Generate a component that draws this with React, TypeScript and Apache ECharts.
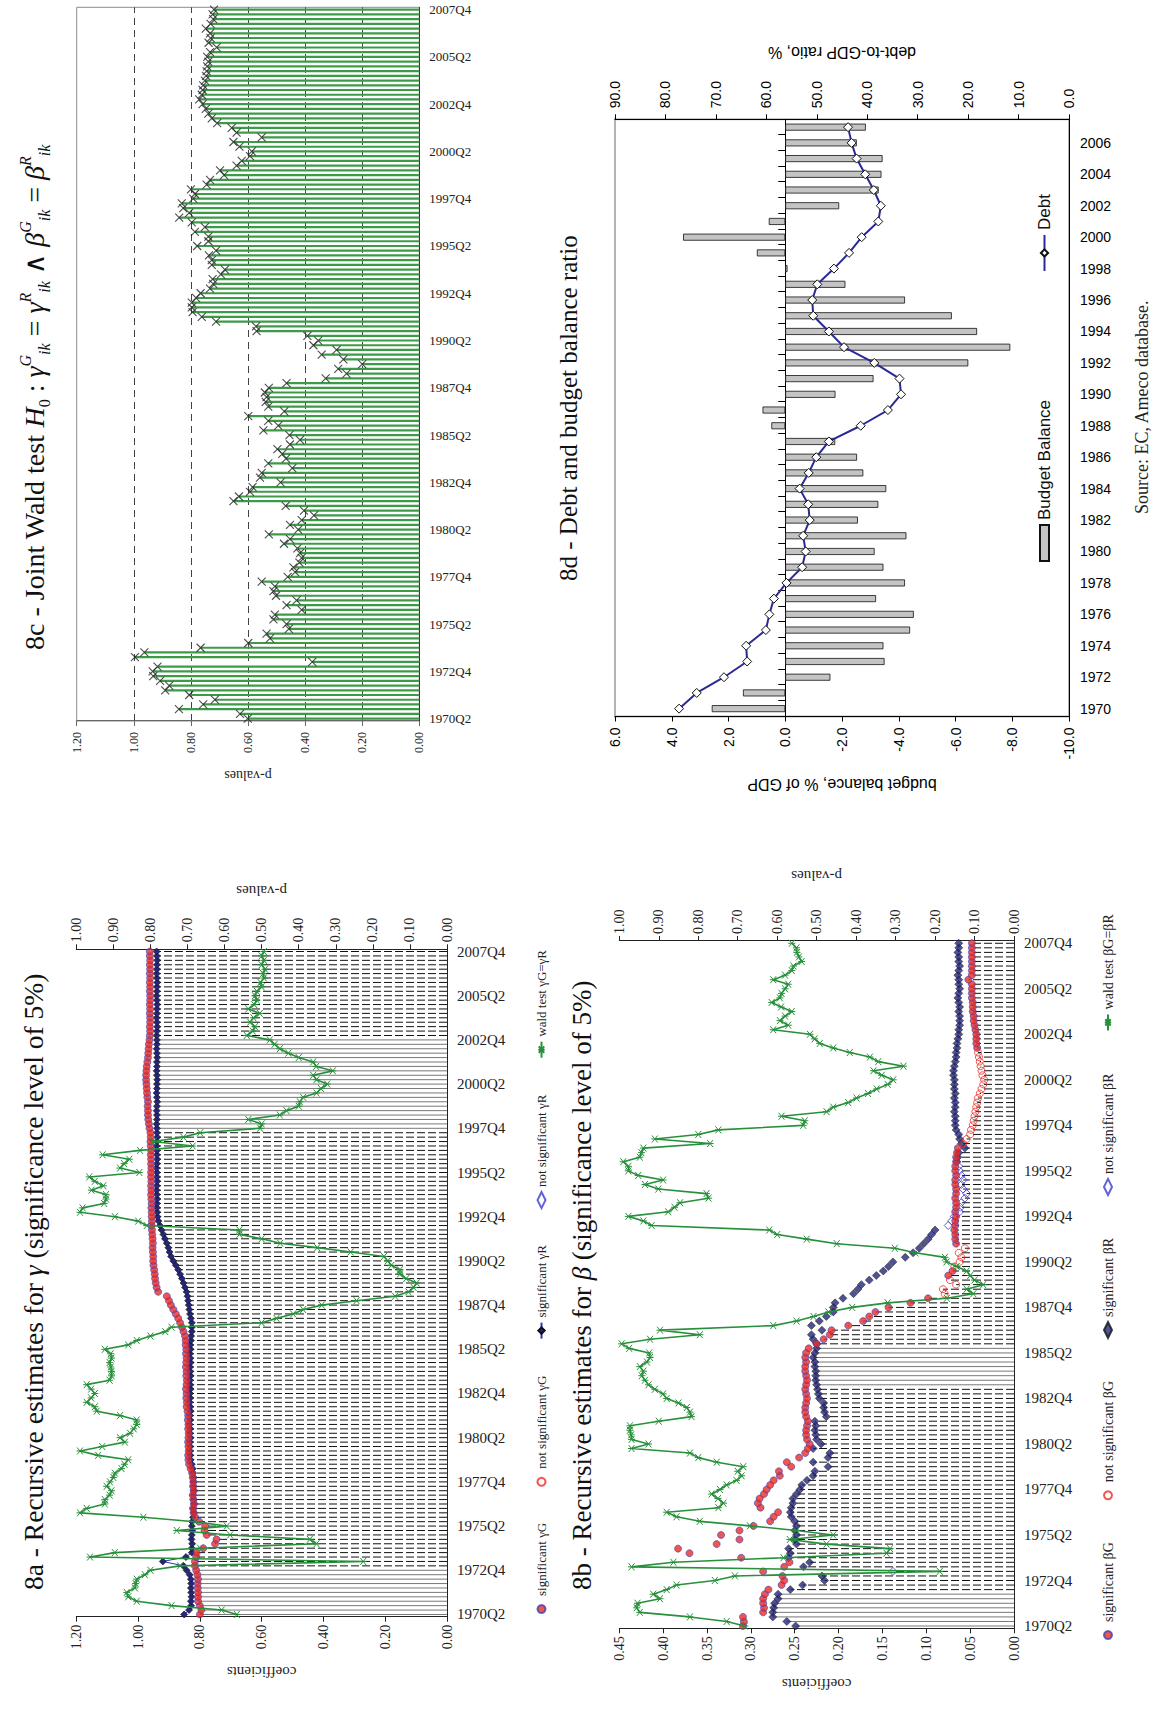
import React, { useEffect, useRef } from "react";
import * as echarts from "echarts";

const SERIF = "'Liberation Serif', 'DejaVu Serif', 'Times New Roman', serif";
const SANS = "'Liberation Sans', Arial, 'DejaVu Sans', sans-serif";

// ---------- categories ----------
const QUARTERS: string[] = [];
for (let y = 1970; y <= 2007; y++) {
  for (let q = 1; q <= 4; q++) {
    if (y === 1970 && q === 1) continue;
    QUARTERS.push(`${y}Q${q}`);
  }
}
const YEARS = ["1970","1971","1972","1973","1974","1975","1976","1977","1978","1979","1980","1981","1982","1983","1984","1985","1986","1987","1988","1989","1990","1991","1992","1993","1994","1995","1996","1997","1998","1999","2000","2001","2002","2003","2004","2005","2006","2007"];

// ---------- 8c : joint Wald test p-values ----------
const WALD_JOINT = [
  0.601,0.628,0.842,0.757,0.716,0.806,0.890,0.876,0.908,0.932,
  0.934,0.917,0.375,0.996,0.963,0.766,0.599,0.523,0.535,0.457,
  0.465,0.511,0.506,0.412,0.465,0.430,0.502,0.511,0.506,0.552,
  0.461,0.435,0.441,0.420,0.412,0.418,0.427,0.474,0.453,0.527,
  0.424,0.453,0.412,0.369,0.404,0.468,0.651,0.632,0.593,0.584,
  0.486,0.558,0.552,0.445,0.529,0.467,0.480,0.497,0.453,0.418,
  0.455,0.546,0.494,0.529,0.599,0.473,0.529,0.538,0.535,0.541,
  0.527,0.465,0.328,0.255,0.284,0.200,0.266,0.342,0.290,0.371,
  0.354,0.392,0.570,0.572,0.712,0.762,0.794,0.797,0.797,0.782,
  0.766,0.733,0.722,0.724,0.695,0.681,0.727,0.727,0.737,0.712,
  0.778,0.739,0.739,0.786,0.751,0.797,0.841,0.806,0.827,0.832,
  0.792,0.786,0.800,0.745,0.733,0.684,0.698,0.640,0.622,0.593,
  0.587,0.630,0.651,0.552,0.640,0.657,0.708,0.727,0.739,0.748,
  0.759,0.771,0.762,0.759,0.757,0.751,0.747,0.745,0.743,0.739,
  0.743,0.733,0.710,0.738,0.731,0.733,0.748,0.731,0.722,0.724,
  0.719
];

// ---------- 8a : gamma ----------
const GAMMA_G = [
  0.800,0.795,0.800,0.806,0.806,0.806,0.807,0.807,0.806,0.808,
  0.812,0.816,0.816,0.812,0.810,0.789,0.751,0.746,0.778,0.785,
  0.783,0.802,0.815,0.820,0.822,0.819,0.821,0.823,0.820,0.822,
  0.821,0.823,0.825,0.830,0.835,0.837,0.838,0.836,0.837,0.838,
  0.837,0.836,0.838,0.837,0.839,0.838,0.840,0.843,0.842,0.844,
  0.843,0.845,0.843,0.842,0.844,0.843,0.845,0.844,0.843,0.845,
  0.844,0.846,0.846,0.848,0.853,0.858,0.864,0.870,0.878,0.886,
  0.894,0.900,0.907,0.935,0.940,0.943,0.945,0.946,0.948,0.950,
  0.951,0.951,0.952,0.953,0.952,0.953,0.954,0.955,0.956,0.955,
  0.956,0.956,0.957,0.956,0.957,0.958,0.957,0.958,0.957,0.958,
  0.958,0.957,0.958,0.958,0.959,0.958,0.959,0.960,0.959,0.960,
  0.963,0.965,0.967,0.968,0.968,0.969,0.968,0.970,0.971,0.972,
  0.973,0.974,0.974,0.973,0.972,0.970,0.968,0.967,0.966,0.965,
  0.963,0.962,0.961,0.962,0.961,0.961,0.962,0.961,0.962,0.961,
  0.961,0.962,0.961,0.962,0.961,0.962,0.961,0.962,0.961,0.962,
  0.962
];
const GAMMA_R = [
  0.851,0.835,0.828,0.829,0.827,0.828,0.829,0.828,0.829,0.833,
  0.843,0.853,0.920,0.845,0.826,0.826,0.825,0.827,0.826,0.825,
  0.826,0.825,0.822,0.820,0.821,0.819,0.820,0.821,0.819,0.820,
  0.821,0.820,0.822,0.823,0.826,0.830,0.831,0.832,0.831,0.832,
  0.830,0.832,0.831,0.833,0.831,0.832,0.830,0.831,0.833,0.831,
  0.832,0.830,0.831,0.832,0.830,0.831,0.832,0.830,0.831,0.832,
  0.830,0.831,0.829,0.828,0.826,0.826,0.826,0.829,0.832,0.834,
  0.836,0.838,0.840,0.843,0.848,0.853,0.858,0.864,0.870,0.878,
  0.886,0.893,0.898,0.902,0.907,0.913,0.918,0.924,0.929,0.934,
  0.937,0.938,0.939,0.939,0.938,0.939,0.940,0.939,0.938,0.939,
  0.939,0.940,0.939,0.938,0.939,0.939,0.940,0.939,0.938,0.939,
  0.939,0.940,0.939,0.939,0.940,0.939,0.938,0.939,0.940,0.939,
  0.939,0.938,0.939,0.940,0.939,0.939,0.938,0.939,0.940,0.939,
  0.939,0.940,0.939,0.938,0.939,0.940,0.939,0.939,0.938,0.939,
  0.940,0.939,0.939,0.938,0.939,0.940,0.939,0.939,0.938,0.939,
  0.940
];
const WALD_GAMMA = [
  0.567,0.608,0.743,0.837,0.860,0.864,0.842,0.840,0.837,0.815,
  0.800,0.720,0.226,0.963,0.896,0.666,0.352,0.370,0.585,0.729,
  0.594,0.680,0.819,0.990,0.972,0.923,0.923,0.910,0.905,0.918,
  0.909,0.900,0.896,0.878,0.870,0.860,0.941,0.990,0.930,0.869,
  0.882,0.855,0.845,0.837,0.837,0.882,0.945,0.950,0.972,0.960,
  0.950,0.960,0.972,0.910,0.905,0.905,0.907,0.910,0.905,0.907,
  0.923,0.860,0.837,0.800,0.760,0.743,0.500,0.460,0.415,0.388,
  0.338,0.244,0.140,0.104,0.090,0.082,0.110,0.127,0.127,0.150,
  0.160,0.170,0.260,0.350,0.450,0.500,0.560,0.560,0.810,0.833,
  0.896,0.990,0.983,0.925,0.920,0.920,0.959,0.927,0.950,0.965,
  0.830,0.882,0.871,0.857,0.929,0.828,0.686,0.792,0.711,0.666,
  0.504,0.500,0.536,0.451,0.433,0.400,0.397,0.388,0.352,0.340,
  0.323,0.352,0.361,0.308,0.353,0.361,0.400,0.428,0.451,0.465,
  0.478,0.540,0.524,0.518,0.531,0.522,0.505,0.536,0.520,0.513,
  0.518,0.513,0.500,0.503,0.494,0.496,0.491,0.500,0.494,0.500,
  0.494
];
const GAMMA_G_NOT_SIG: number[][] = [];
const GAMMA_R_NOT_SIG: number[][] = [];
const GAMMA_SOLID_LINES = [[0, 10], [110, 130]];

// ---------- 8b : beta ----------
const BETA_G = [
  0.309,0.308,0.309,0.286,0.285,0.286,0.286,0.284,0.280,0.265,
  0.262,0.264,0.286,0.262,0.256,0.311,0.370,0.383,0.339,0.313,
  0.334,0.313,0.297,0.278,0.274,0.269,0.289,0.292,0.290,0.285,
  0.282,0.278,0.274,0.267,0.268,0.254,0.259,0.245,0.238,0.235,
  0.233,0.236,0.237,0.237,0.236,0.235,0.237,0.238,0.238,0.237,
  0.236,0.237,0.238,0.237,0.236,0.237,0.238,0.238,0.237,0.238,
  0.237,0.234,0.225,0.217,0.210,0.208,0.189,0.172,0.165,0.158,
  0.143,0.118,0.098,0.079,0.081,0.066,0.073,0.075,0.070,0.068,
  0.062,0.060,0.063,0.056,0.066,0.067,0.067,0.068,0.067,0.067,
  0.066,0.067,0.066,0.066,0.067,0.066,0.066,0.067,0.067,0.066,
  0.067,0.067,0.066,0.066,0.065,0.064,0.058,0.054,0.050,0.049,
  0.047,0.046,0.045,0.044,0.043,0.042,0.041,0.039,0.037,0.035,
  0.034,0.036,0.037,0.038,0.039,0.040,0.041,0.042,0.043,0.043,
  0.043,0.044,0.045,0.046,0.046,0.047,0.047,0.047,0.048,0.048,
  0.048,0.048,0.052,0.048,0.048,0.048,0.048,0.048,0.048,0.048,
  0.048
];
const BETA_R = [
  0.249,0.259,0.275,0.275,0.274,0.273,0.269,0.269,0.255,0.241,
  0.216,0.219,0.138,0.240,0.233,0.257,0.255,0.257,0.248,0.250,
  0.248,0.250,0.248,0.250,0.254,0.255,0.254,0.252,0.252,0.248,
  0.244,0.242,0.236,0.229,0.227,0.212,0.229,0.212,0.210,0.229,
  0.220,0.225,0.226,0.227,0.226,0.227,0.214,0.216,0.217,0.217,
  0.222,0.223,0.224,0.225,0.226,0.226,0.226,0.227,0.227,0.229,
  0.227,0.225,0.225,0.229,0.231,0.219,0.231,0.222,0.214,0.206,
  0.206,0.204,0.195,0.183,0.178,0.174,0.165,0.157,0.149,0.143,
  0.138,0.124,0.115,0.108,0.103,0.098,0.094,0.090,0.075,0.071,
  0.068,0.062,0.061,0.060,0.056,0.054,0.058,0.060,0.058,0.060,
  0.062,0.063,0.065,0.064,0.063,0.056,0.060,0.062,0.063,0.066,
  0.067,0.067,0.067,0.068,0.067,0.067,0.068,0.067,0.068,0.068,
  0.068,0.069,0.069,0.068,0.067,0.066,0.066,0.065,0.065,0.064,
  0.063,0.063,0.062,0.062,0.062,0.063,0.062,0.063,0.064,0.063,
  0.062,0.063,0.063,0.064,0.063,0.062,0.063,0.063,0.064,0.063,
  0.063
];
const WALD_BETA = [
  0.682,0.728,0.821,0.948,0.956,0.954,0.897,0.914,0.880,0.855,
  0.758,0.707,0.188,0.969,0.863,0.584,0.323,0.314,0.475,0.568,
  0.458,0.551,0.669,0.796,0.855,0.880,0.749,0.736,0.750,0.766,
  0.745,0.728,0.703,0.690,0.700,0.686,0.753,0.800,0.821,0.969,
  0.926,0.969,0.970,0.973,0.973,0.900,0.817,0.821,0.829,0.850,
  0.880,0.889,0.910,0.926,0.935,0.943,0.939,0.948,0.930,0.922,
  0.924,0.975,0.994,0.922,0.796,0.897,0.610,0.551,0.508,0.470,
  0.410,0.320,0.170,0.103,0.120,0.078,0.100,0.111,0.120,0.145,
  0.171,0.175,0.250,0.302,0.449,0.525,0.600,0.620,0.918,0.939,
  0.977,0.876,0.860,0.846,0.774,0.779,0.901,0.935,0.889,0.952,
  0.977,0.977,0.990,0.948,0.944,0.939,0.770,0.910,0.800,0.749,
  0.534,0.530,0.589,0.475,0.458,0.420,0.399,0.370,0.348,0.320,
  0.306,0.335,0.356,0.280,0.344,0.365,0.416,0.458,0.492,0.505,
  0.517,0.610,0.572,0.593,0.580,0.563,0.590,0.614,0.593,0.589,
  0.580,0.572,0.610,0.580,0.563,0.559,0.538,0.545,0.550,0.551,
  0.563
];
const BETA_G_NOT_SIG = [[73, 76], [79, 83], [106, 126]];
const BETA_R_NOT_SIG = [[12, 12], [88, 101]];
const BETA_SOLID_LINES = [[0, 7], [53, 61]];

// ---------- 8d : budget balance and debt ----------
const BUDGET = [2.59,1.49,-1.59,-3.50,-3.46,-4.40,-4.53,-3.20,-4.22,-3.46,-3.15,-4.27,-2.56,-3.28,-3.56,-2.75,-2.53,-1.76,0.49,0.80,-1.77,-3.11,-6.45,-7.93,-6.76,-5.87,-4.22,-2.12,-0.08,1.00,3.60,0.58,-1.90,-3.29,-3.39,-3.43,-2.52,-2.84];
const DEBT = [77.3,73.8,68.4,63.8,64.0,60.1,59.4,58.5,56.0,52.9,52.2,52.7,51.4,51.7,53.4,51.6,50.1,47.6,41.3,35.9,33.3,33.6,38.6,44.6,47.6,50.7,50.9,49.9,46.6,43.6,41.1,37.8,37.3,38.7,40.4,42.1,43.1,43.8];

// ---------- helpers ----------
const XSYM = "path://M0,0L10,10M10,0L0,10";
const ASTER = "path://M0,0L10,10M10,0L0,10M5,-1L5,11";
const inRanges = (ranges: number[][], i: number) => ranges.some(([a, b]) => i >= a && i <= b);

function titleRich(size: number) {
  const lh = Math.round(size * 1.25);
  const small = Math.round(size * 0.58);
  const base = { fontFamily: SERIF, color: "#111", fontWeight: "normal" };
  return {
    t: { ...base, fontSize: size, lineHeight: lh, verticalAlign: "middle" },
    i: { ...base, fontSize: size, fontStyle: "italic", lineHeight: lh, verticalAlign: "middle" },
    sp: { ...base, fontSize: small, fontStyle: "italic", lineHeight: small + 2, verticalAlign: "top" },
    sb: { ...base, fontSize: small, fontStyle: "italic", lineHeight: small + 2, verticalAlign: "bottom" },
    s0: { ...base, fontSize: small, lineHeight: small + 2, verticalAlign: "bottom" },
  };
}

function dropLineSeries(G: number[], R: number[], solid: number[][]) {
  return {
    type: "custom",
    yAxisIndex: 0,
    silent: true,
    clip: false,
    z: 1,
    data: G.map((g, i) => [i, Math.min(g, R[i]), inRanges(solid, i) ? 1 : 0]),
    encode: { x: 0, y: 1 },
    renderItem: (params: any, api: any) => {
      const i = api.value(0);
      const v = api.value(1);
      const s = api.value(2);
      const a = api.coord([i, 0]);
      const b = api.coord([i, v]);
      return {
        type: "line",
        shape: { x1: a[0], y1: a[1], x2: b[0], y2: b[1] },
        style: s ? { stroke: "#555", lineWidth: 0.8 } : { stroke: "#111", lineWidth: 1, lineDash: [8, 3] },
      };
    },
  };
}

function buildRecursive(p: any) {
  const gSig = p.G.map((v: number, i: number) => (inRanges(p.gNS, i) ? "-" : v));
  const gNs = p.G.map((v: number, i: number) => (inRanges(p.gNS, i) ? v : "-"));
  const rSig = p.R.map((v: number, i: number) => (inRanges(p.rNS, i) ? "-" : v));
  const rNs = p.R.map((v: number, i: number) => (inRanges(p.rNS, i) ? v : "-"));
  const axisLbl = { fontFamily: SERIF, fontSize: p.valFont, color: "#222" };
  return {
    animation: false,
    title: {
      text: p.title,
      left: p.titleLeft,
      top: p.titleTop,
      textStyle: { fontWeight: "normal", rich: titleRich(p.titleSize) },
    },
    legend: {
      data: p.names,
      left: p.legendLeft,
      top: p.legendTop,
      itemGap: p.legendGap,
      itemWidth: 16,
      itemHeight: 8,
      textStyle: { fontFamily: SERIF, fontSize: p.legendFont, color: "#222" },
    },
    grid: p.grid,
    xAxis: {
      type: "category",
      data: QUARTERS,
      boundaryGap: true,
      axisLine: { lineStyle: { color: "#222", width: 1 } },
      axisTick: { interval: 0, length: 4, lineStyle: { color: "#222" } },
      axisLabel: { interval: 9, rotate: -90, margin: 10, fontFamily: SERIF, fontSize: p.catFont, color: "#222" },
      splitLine: { show: false },
    },
    yAxis: [
      {
        type: "value",
        min: 0,
        max: p.coefMax,
        interval: p.coefInterval,
        name: "coefficients",
        nameLocation: "middle",
        nameRotate: 90,
        nameGap: p.coefGap,
        nameTextStyle: { fontFamily: SERIF, fontSize: 15, color: "#222" },
        axisLine: { show: true, lineStyle: { color: "#222" } },
        axisTick: { show: true, length: 5, lineStyle: { color: "#222" } },
        axisLabel: { ...axisLbl, margin: 8, formatter: (v: number) => v.toFixed(2) },
        splitLine: { show: false },
      },
      {
        type: "value",
        min: 0,
        max: 1,
        interval: 0.1,
        position: "right",
        name: "p-values",
        nameLocation: "middle",
        nameRotate: 90,
        nameGap: p.pGap,
        nameTextStyle: { fontFamily: SERIF, fontSize: 15, color: "#222" },
        axisLine: { show: true, lineStyle: { color: "#222" } },
        axisTick: { show: true, length: 5, lineStyle: { color: "#222" } },
        axisLabel: { ...axisLbl, margin: 7, formatter: (v: number) => v.toFixed(2) },
        splitLine: { show: false },
      },
    ],
    series: [
      dropLineSeries(p.G, p.R, p.solid),
      p.rLine
        ? {
            name: p.names[2], type: "line", yAxisIndex: 0, data: rSig, symbol: "diamond", symbolSize: 7,
            showAllSymbol: true, z: 3,
            lineStyle: { color: "#3434a4", width: 1 },
            itemStyle: { color: "#26267a", borderColor: "#111", borderWidth: 0.6 },
          }
        : {
            name: p.names[2], type: "scatter", yAxisIndex: 0, data: rSig, symbol: "diamond", symbolSize: 8, z: 3,
            itemStyle: { color: "#26267a", borderColor: "#111", borderWidth: 0.6 },
          },
      {
        name: p.names[3], type: "scatter", yAxisIndex: 0, data: rNs, symbol: "diamond", symbolSize: 8, z: 3,
        itemStyle: { color: "rgba(255,255,255,0)", borderColor: "#3a3ad0", borderWidth: 1 },
      },
      {
        name: p.names[0], type: "scatter", yAxisIndex: 0, data: gSig, symbol: "circle", symbolSize: 7, z: 4,
        itemStyle: { color: "#ec2c24", borderColor: "#4040b0", borderWidth: 0.8 },
      },
      {
        name: p.names[1], type: "scatter", yAxisIndex: 0, data: gNs, symbol: "circle", symbolSize: 7, z: 4,
        itemStyle: { color: "rgba(255,255,255,0)", borderColor: "#ec2c24", borderWidth: 1 },
      },
      {
        name: p.names[4], type: "line", yAxisIndex: 1, data: p.P, symbol: ASTER, symbolSize: 7,
        showAllSymbol: true, z: 5,
        lineStyle: { color: "#27903a", width: 1.6 },
        itemStyle: { color: "#27903a", borderColor: "#27903a", borderWidth: 1 },
      },
    ],
  };
}

// ---------- options ----------
const option8a = buildRecursive({
  title: "{t|8a - Recursive estimates for }{i|γ}{t| (significance level of 5%)}",
  titleSize: 27.5, titleLeft: 118, titleTop: 11,
  grid: { left: 96.3, right: 89.3, top: 76.3, bottom: 113 },
  coefMax: 1.2, coefInterval: 0.2,
  G: GAMMA_G, R: GAMMA_R, P: WALD_GAMMA,
  gNS: GAMMA_G_NOT_SIG, rNS: GAMMA_R_NOT_SIG, solid: GAMMA_SOLID_LINES,
  names: ["significant γG", "not significant γG", "significant γR", "not significant γR", "wald test γG=γR"],
  legendLeft: 94, legendTop: 530, legendGap: 36, legendFont: 13,
  catFont: 15, valFont: 14, coefGap: 48, pGap: 51, rLine: true,
});

const option8b = buildRecursive({
  title: "{t|8b - Recursive estimates for }{i|β}{t| (significance level of 5%)}",
  titleSize: 27, titleLeft: 118, titleTop: 0,
  grid: { left: 84.7, right: 79.3, top: 59.3, bottom: 143 },
  coefMax: 0.45, coefInterval: 0.05,
  G: BETA_G, R: BETA_R, P: WALD_BETA,
  gNS: BETA_G_NOT_SIG, rNS: BETA_R_NOT_SIG, solid: BETA_SOLID_LINES,
  names: ["significant βG", "not significant βG", "significant βR", "not significant βR", "wald test βG=βR"],
  legendLeft: 68, legendTop: 536, legendGap: 42, legendFont: 14,
  catFont: 15, valFont: 14, coefGap: 48, pGap: 58, rLine: false,
});

const option8c = {
  animation: false,
  title: {
    text:
      "{t|8c - Joint Wald test }{i|H}{s0|0}{t| : }{i|γ}{sp|G}{sb|ik}{t| = }{i|γ}{sp|R}{sb|ik}{t| ∧ }{i|β}{sp|G}{sb|ik}{t| = }{i|β}{sp|R}{sb|ik}",
    left: 135,
    top: 12,
    textStyle: { fontWeight: "normal", rich: titleRich(28) },
  },
  grid: { left: 64.3, right: 7.3, top: 76.7, bottom: 60.7, show: true, borderColor: "#8c8c8c", borderWidth: 1 },
  xAxis: {
    type: "category",
    data: QUARTERS,
    boundaryGap: true,
    axisLine: { lineStyle: { color: "#333" } },
    axisTick: { interval: 0, length: 3, lineStyle: { color: "#333" } },
    axisLabel: { interval: 9, rotate: -90, margin: 10, fontFamily: SERIF, fontSize: 13, color: "#222" },
    splitLine: { show: false },
  },
  yAxis: {
    type: "value",
    min: 0,
    max: 1.2,
    interval: 0.2,
    name: "p-values",
    nameLocation: "middle",
    nameRotate: 90,
    nameGap: 47,
    nameTextStyle: { fontFamily: SERIF, fontSize: 14, color: "#222" },
    axisLine: { show: true, lineStyle: { color: "#666" } },
    axisTick: { show: true, length: 5, lineStyle: { color: "#666" } },
    axisLabel: { margin: 11, fontFamily: SERIF, fontSize: 12, color: "#222", formatter: (v: number) => v.toFixed(2) },
    splitLine: { show: true, showMinLine: false, showMaxLine: false, lineStyle: { type: [7, 5], color: "#444", width: 1 } },
  },
  series: [
    { type: "bar", data: WALD_JOINT, barWidth: 2.2, itemStyle: { color: "#3d9b48" }, silent: true },
    {
      type: "scatter", data: WALD_JOINT, symbol: XSYM, symbolSize: 8, z: 3,
      itemStyle: { color: "rgba(0,0,0,0)", borderColor: "#222", borderWidth: 1.1 },
    },
  ],
};

const option8d = {
  animation: false,
  title: {
    text: "8d - Debt and budget balance ratio",
    left: 284,
    top: 11,
    textStyle: { fontFamily: SERIF, fontSize: 25, fontWeight: "normal", color: "#111" },
  },
  legend: {
    data: [{ name: "Budget Balance", icon: "rect" }, { name: "Debt" }],
    left: 303,
    top: 491,
    itemWidth: 36,
    itemHeight: 9,
    itemGap: 128,
    textStyle: { fontFamily: SANS, fontSize: 17, color: "#111" },
  },
  grid: { left: 153.5, right: 119.3, top: 75, bottom: 88, show: true, borderColor: "#b4b4b4", borderWidth: 2 },
  xAxis: [
    {
      type: "category",
      data: YEARS,
      boundaryGap: true,
      axisLine: { onZero: true, lineStyle: { color: "#000", width: 1 } },
      axisTick: { show: true, inside: true, interval: 0, length: 7, lineStyle: { color: "#000" } },
      axisLabel: { show: false },
      splitLine: { show: false },
    },
    {
      type: "category",
      data: YEARS,
      boundaryGap: true,
      position: "bottom",
      axisLine: { onZero: false, lineStyle: { color: "#000", width: 1 } },
      axisTick: { show: false },
      axisLabel: { interval: 1, rotate: -90, margin: 11, fontFamily: SANS, fontSize: 14, color: "#000" },
      splitLine: { show: false },
    },
  ],
  yAxis: [
    {
      type: "value",
      min: -10,
      max: 6,
      interval: 2,
      name: "budget balance, % of GDP",
      nameLocation: "middle",
      nameRotate: 90,
      nameGap: 60,
      nameTextStyle: { fontFamily: SANS, fontSize: 16, color: "#000" },
      axisLine: { show: true, lineStyle: { color: "#000" } },
      axisTick: { show: true, length: 5, lineStyle: { color: "#000" } },
      axisLabel: { margin: 11, fontFamily: SANS, fontSize: 14, color: "#000", formatter: (v: number) => v.toFixed(1) },
      splitLine: { show: false },
    },
    {
      type: "value",
      min: 0,
      max: 90,
      interval: 10,
      position: "right",
      name: "debt-to-GDP ratio, %",
      nameLocation: "middle",
      nameRotate: 90,
      nameGap: 59,
      nameTextStyle: { fontFamily: SANS, fontSize: 16, color: "#000" },
      axisLine: { show: true, lineStyle: { color: "#000" } },
      axisTick: { show: true, length: 5, lineStyle: { color: "#000" } },
      axisLabel: { margin: 11, fontFamily: SANS, fontSize: 14, color: "#000", formatter: (v: number) => v.toFixed(1) },
      splitLine: { show: false },
    },
  ],
  graphic: [
    {
      type: "text",
      left: 356,
      top: 593,
      style: { text: "Source: EC, Ameco database.", fontFamily: SERIF, fontSize: 18, fill: "#222" },
    },
  ],
  series: [
    {
      name: "Budget Balance",
      type: "bar",
      xAxisIndex: 0,
      yAxisIndex: 0,
      data: BUDGET,
      barWidth: 7,
      itemStyle: { color: "#c4c4c4", borderColor: "#111", borderWidth: 0.8 },
    },
    {
      name: "Debt",
      type: "line",
      xAxisIndex: 0,
      yAxisIndex: 1,
      data: DEBT,
      symbol: "diamond",
      symbolSize: 9,
      showAllSymbol: true,
      z: 4,
      lineStyle: { color: "#2a2a96", width: 2 },
      itemStyle: { color: "#ffffff", borderColor: "#111", borderWidth: 1 },
    },
  ],
};

// ---------- components ----------
function Panel({ x, y, w, h, option }: { x: number; y: number; w: number; h: number; option: any }) {
  const ref = useRef<HTMLDivElement>(null);
  useEffect(() => {
    if (!ref.current) return;
    const chart = echarts.init(ref.current, null, { renderer: "svg", width: w, height: h });
    chart.setOption(option);
    return () => chart.dispose();
  }, [option, w, h]);
  return (
    <div style={{ position: "absolute", left: x, top: y, width: h, height: w }}>
      <div
        ref={ref}
        style={{
          position: "absolute",
          left: 0,
          top: w,
          width: w,
          height: h,
          transform: "rotate(-90deg)",
          transformOrigin: "0 0",
        }}
      />
    </div>
  );
}

export default function App() {
  return (
    <div style={{ position: "absolute", left: 0, top: 0, width: 1157, height: 1713, background: "#fff", overflow: "hidden" }}>
      <Panel x={0} y={0} w={790} h={480} option={option8c} />
      <Panel x={540} y={0} w={870} h={617} option={option8d} />
      <Panel x={0} y={860} w={853} h={560} option={option8a} />
      <Panel x={560} y={860} w={853} h={597} option={option8b} />
    </div>
  );
}
